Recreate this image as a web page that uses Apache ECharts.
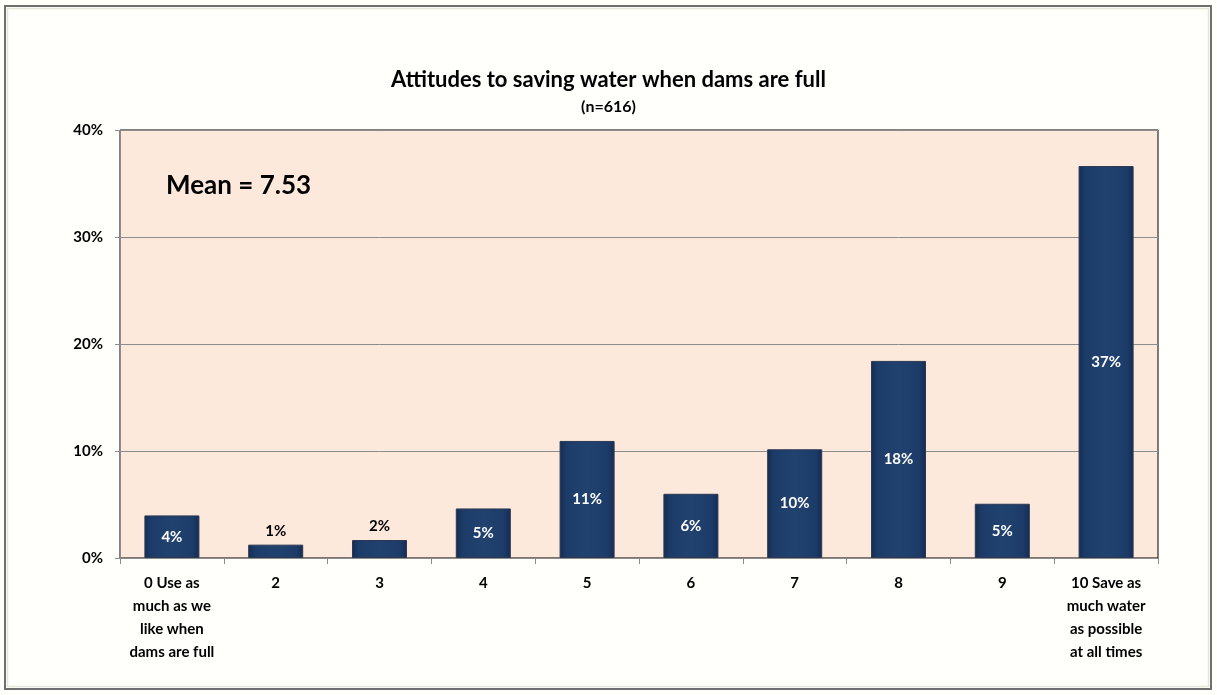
<!DOCTYPE html>
<html>
<head>
<meta charset="utf-8">
<script src="https://cdn.jsdelivr.net/npm/echarts@6/dist/echarts.min.js"></script>
<style>
html,body{margin:0;padding:0;background:#fffffb;}
#chart{width:1217px;height:695px;}
</style>
</head>
<body>
<div id="chart"></div>
<script>
var categories = ['0 Use as\nmuch as we\nlike when\ndams are full','2','3','4','5','6','7','8','9','10 Save as\nmuch water\nas possible\nat all times'];
var values = [3.98, 1.25, 1.68, 4.63, 10.94, 6.0, 10.16, 18.42, 5.07, 36.63];
var yTicks = [0, 10, 20, 30, 40];
var titleText = 'Attitudes to saving water when dams are full';
var subText = '(n=616)';
var meanText = 'Mean = 7.53';

var FONT = 'Lato, "Open Sans", sans-serif';
var chart = echarts.init(document.getElementById('chart'), null, {renderer:'canvas'});

var barData = values.map(function(v){
  var small = v < 3;
  return {
    value: v,
    label: {
      position: small ? 'top' : 'inside',
      color: small ? '#000' : '#fff',
      distance: 6
    }
  };
});

var option = {
  backgroundColor: '#fffffb',
  animation: false,
  title: [
    {text: titleText, left: 'center', top: 64,
     textStyle:{fontFamily:FONT, fontWeight:'bold', fontSize:22, color:'#000'}},
    {text: subText, left: 'center', top: 94,
     textStyle:{fontFamily:FONT, fontWeight:'bold', fontSize:16, color:'#000'}},
    {text: meanText, left: 161, top: 168,
     textStyle:{fontFamily:FONT, fontWeight:'bold', fontSize:26, color:'#000'}}
  ],
  graphic: [
    {type:'rect', shape:{x:5, y:6, width:1206, height:683}, style:{fill:'none', stroke:'#6e6e6e', lineWidth:2}, silent:true, z:-1},
    {type:'rect', shape:{x:7.5, y:8.5, width:1201, height:678}, style:{fill:'none', stroke:'#e3e6d8', lineWidth:1.5}, silent:true, z:-1}
  ],
  grid: {left:120, right:59, top:130, bottom:137, show:true, backgroundColor:'#fde9dc', borderColor:'#000', borderWidth:1, containLabel:false},
  xAxis: {
    type:'category', data: categories,
    axisLine:{show:true, lineStyle:{color:'#8c8c8c', width:1}},
    axisTick:{show:true, length:6, lineStyle:{color:'#8c8c8c'}, alignWithLabel:false},
    axisLabel:{interval:0, fontFamily:FONT, fontWeight:'bold', fontSize:15, color:'#000', lineHeight:23, margin:14}
  },
  yAxis: {
    type:'value', min: yTicks[0], max: yTicks[yTicks.length-1], interval: 10,
    axisLine:{show:true, lineStyle:{color:'#8c8c8c', width:1}},
    axisTick:{show:true, length:5, lineStyle:{color:'#8c8c8c'}},
    axisLabel:{formatter:'{value}%', fontFamily:FONT, fontWeight:'bold', fontSize:15, color:'#000', margin:17},
    splitLine:{show:true, lineStyle:{color:'#8c8c8c', width:1}}
  },
  series: [{
    type:'bar', data: barData, barWidth:'53%',
    itemStyle:{
      color: new echarts.graphic.LinearGradient(0,0,1,0,[
        {offset:0, color:'#142c52'},
        {offset:0.12, color:'#1c3b68'},
        {offset:0.5, color:'#21426f'},
        {offset:0.88, color:'#1c3b68'},
        {offset:1, color:'#142c52'}
      ]),
      borderColor:'#2b3850', borderWidth:1
    },
    label:{show:true, fontFamily:FONT, fontWeight:'bold', fontSize:15,
      formatter:function(p){return Math.round(p.value)+'%';}}
  }]
};
chart.setOption(option);
</script>
</body>
</html>
